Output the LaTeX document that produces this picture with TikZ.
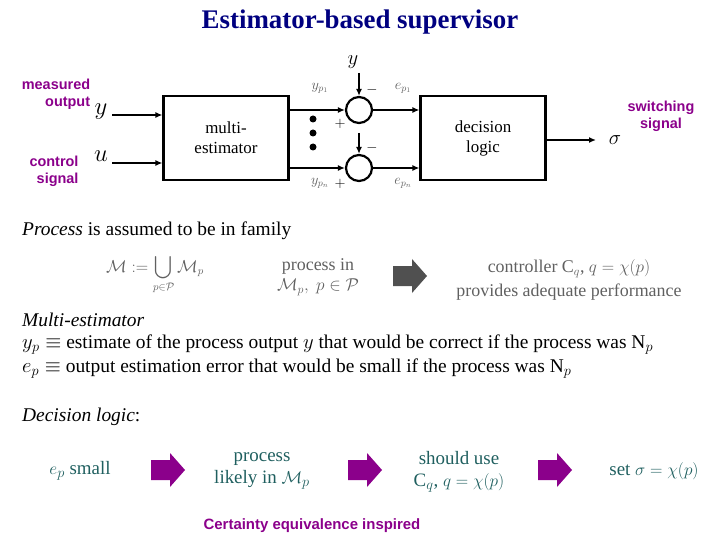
\documentclass[tikz,border=0pt]{standalone}
\usepackage{fontspec}
\usepackage{amsmath,amssymb}
\setmainfont{Liberation Serif}
\newfontfamily\lsans{Liberation Sans}
\usetikzlibrary{arrows.meta}
\definecolor{ttl}{HTML}{000080}
\definecolor{purp}{HTML}{8B008B}
\definecolor{teal2}{HTML}{1F5F5F}
\definecolor{gry}{HTML}{606060}
\tikzset{
  lab/.style={font=\lsans\bfseries\fontsize{14.5}{17}\selectfont,text=purp,align=right},
  body/.style={font=\fontsize{19.5}{22}\selectfont,anchor=west,inner sep=0},
  blk/.style={draw,line width=2.2pt,minimum width=125bp,minimum height=84bp,font=\fontsize{17}{20}\selectfont,align=center},
  sum/.style={draw,circle,line width=2.2pt,minimum size=26bp,inner sep=0},
  sig/.style={line width=2pt,-{Latex[length=7bp,width=6bp]}},
  small/.style={font=\fontsize{14}{16}\selectfont,text=gry},
  bot/.style={font=\fontsize{19}{22}\selectfont,text=teal2,align=center},
  pics/barr/.style={code={\fill[#1] (-17,-10) -- (2,-10) -- (2,-17) -- (17,0) -- (2,17) -- (2,10) -- (-17,10) -- cycle;}},
}
\begin{document}
\begin{tikzpicture}[x=1bp,y=-1bp]
\useasboundingbox (0,0) rectangle (720,540);
\node[font=\bfseries\fontsize{27}{30}\selectfont,text=ttl] (title) at (360,22) {Estimator-based supervisor};
% top diagram
\node[lab] (meas) at (56,94) {measured\\output};
\node[lab] (ctrl) at (54,171) {control\\signal};
\node[font=\fontsize{24}{26}\selectfont] (yin) at (101,112) {$y$};
\node[font=\fontsize{24}{26}\selectfont] (uin) at (101,156) {$u$};
\node[blk] (me) at (226,138) {multi-\\estimator};
\node[blk] (dl) at (483,138) {decision\\logic};
\node[sum] (s1) at (359,110) {};
\node[sum] (s2) at (359,168) {};
\coordinate (yi) at (112,115);
\coordinate (ui) at (112,163);
\draw[sig] (yi) -- (yi -| me.west);
\draw[sig] (ui) -- (ui -| me.west);
\draw[sig] (s1 -| me.east) -- (s1.west);
\draw[sig] (s2 -| me.east) -- (s2.west);
\draw[sig] (s1.east) -- (s1 -| dl.west);
\draw[sig] (s2.east) -- (s2 -| dl.west);
\node[font=\fontsize{22}{24}\selectfont] (ytop) at (353,62) {$y$};
\coordinate (yt) at (359,73);
\coordinate (yt2) at (359,133);
\draw[sig] (yt) -- (s1.north);
\draw[sig] (yt2) -- (s2.north);
\coordinate (so) at (596,140);
\draw[sig] (dl.east |- so) -- (so);
\node[font=\fontsize{22}{24}\selectfont] (sigma) at (615,140) {$\sigma$};
\node[lab,align=center] (sw) at (661,116) {switching\\signal};
\foreach \yy [count=\i] in {119,133,147} \fill (313,\yy) circle (3.5bp) coordinate (d\i);
\node[small] (yp1) at (320,88) {$y_{p_1}$};
\node[small,text=black] (m1) at (372,90) {$-$};
\node[small] (ep1) at (403,88) {$e_{p_1}$};
\node[small,text=black] (pl1) at (340,124) {$+$};
\node[small,text=black] (m2) at (372,148) {$-$};
\node[small] (ypn) at (320,183) {$y_{p_n}$};
\node[small,text=black] (pl2) at (340,184) {$+$};
\node[small] (epn) at (403,183) {$e_{p_n}$};
% middle
\node[body] (pa) at (22,231) {\textit{Process} is assumed to be in family};
\node[text=gry,font=\fontsize{16}{18}\selectfont,inner sep=0] (un) at (155,275) {$\mathcal{M}:=\displaystyle\bigcup_{p\in\mathcal{P}}\mathcal{M}_p$};
\node[text=gry,font=\fontsize{18}{21}\selectfont,align=center] (pin) at (318,277) {process in\\$\mathcal{M}_p,\ p\in\mathcal{P}$};
\pic (ga) at (410,276) {barr=gry!110};
\node[text=gry,font=\fontsize{18}{24}\selectfont,align=center] (ctl) at (569,280) {controller C$_q$, $q=\chi(p)$\\provides adequate performance};
\node[body] (mt) at (22,320) {\textit{Multi-estimator}};
\node[body] (l1) at (22,345) {$y_p\equiv$ estimate of the process output $y$ that would be correct if the process was N$_p$};
\node[body] (l2) at (22,369) {$e_p\equiv$ output estimation error that would be small if the process was N$_p$};
\node[body] (dtl) at (22,417) {\textit{Decision logic}:};
% bottom
\node[bot] (b1) at (80,471) {$e_p$ small};
\pic (a1) at (168,470) {barr=purp};
\node[bot] (b2) at (262,471) {process\\likely in $\mathcal{M}_p$};
\pic (a2) at (365,470) {barr=purp};
\node[bot] (b3) at (459,472) {should use\\C$_q$, $q=\chi(p)$};
\pic (a3) at (555,470) {barr=purp};
\node[bot] (b4) at (654,471) {set $\sigma=\chi(p)$};
\node[lab,align=center,font=\lsans\bfseries\fontsize{15}{17}\selectfont] (ce) at (312,526) {Certainty equivalence inspired};
\end{tikzpicture}
\end{document}
